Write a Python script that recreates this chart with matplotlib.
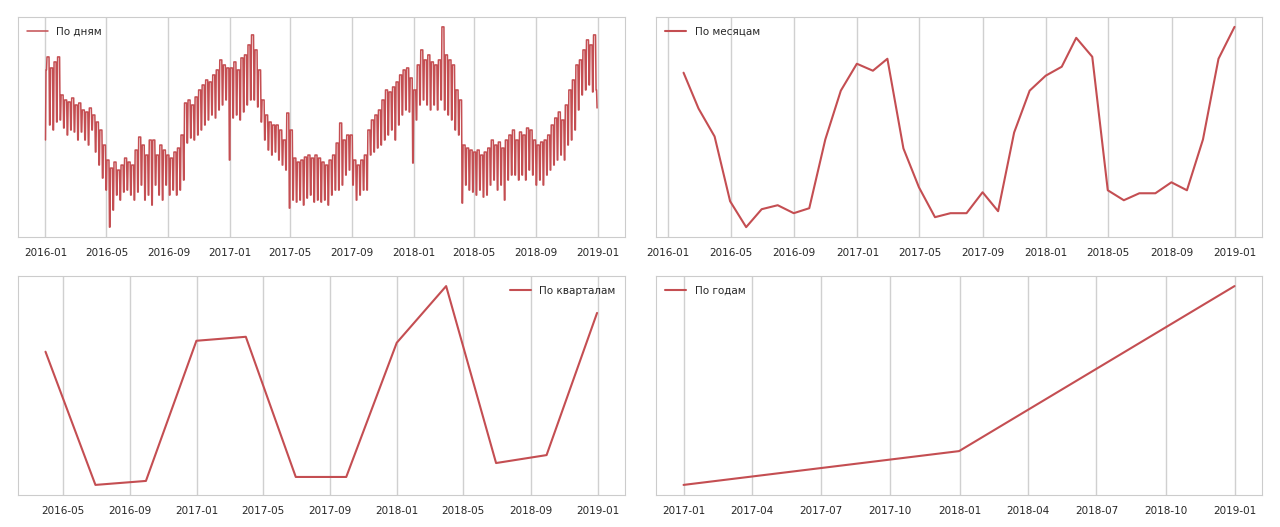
import numpy as np
import pandas as pd
import matplotlib
matplotlib.use('Agg')
import matplotlib.pyplot as plt
import matplotlib.dates as mdates
import seaborn as sns

# weekly levels of the daily series (weekdays / weekend), weeks start on Monday 2015-12-28
week_high = [100, 183, 172, 178, 183, 145, 140, 138, 142, 135, 137, 130, 128, 132, 125, 118,
             110, 95, 80, 72, 78, 70, 75, 82, 78, 75, 90, 103, 95, 85, 100, 100,
             85, 95, 90, 85, 82, 88, 92, 105, 137, 140, 135, 143, 150, 155, 160, 158,
             165, 170, 180, 175, 172,
             172, 178, 170, 182, 185, 195, 205, 190, 170, 140, 125, 118, 115, 115, 110,
             100, 127, 110, 82, 78, 80, 83, 85, 82, 85, 82, 78, 75, 80, 85, 97,
             117, 100, 105, 105, 80, 75, 80, 85, 110, 120, 125, 130, 140, 150, 148, 153,
             158, 165, 170, 172, 162,
             150, 175, 190, 180, 185, 178, 175, 180, 213, 185, 180, 175, 150, 140, 95,
             92, 90, 88, 90, 85, 88, 92, 100, 95, 98, 92, 100, 105, 110, 100, 108,
             105, 112, 110, 100, 95, 98, 100, 105, 115, 122, 128, 120, 135, 150, 160, 175,
             180, 190, 200, 195, 205, 132]
week_low = [170, 115, 110, 118, 120, 112, 105, 110, 108, 100, 108, 100, 95, 110, 88, 75,
            62, 50, 13, 30, 45, 40, 48, 50, 45, 40, 48, 55, 40, 45, 35, 55,
            45, 40, 55, 45, 50, 45, 50, 60, 97, 102, 100, 105, 110, 115, 120, 125,
            122, 130, 135, 140, 80,
            122, 125, 120, 128, 135, 140, 140, 133, 118, 100, 90, 85, 88, 80, 75,
            70, 32, 40, 38, 40, 35, 42, 45, 38, 40, 38, 40, 35, 45, 50, 50,
            55, 65, 70, 55, 40, 45, 50, 50, 85, 88, 92, 95, 100, 105, 110, 100,
            115, 125, 130, 128, 77,
            120, 135, 140, 135, 130, 135, 130, 140, 130, 125, 120, 110, 105, 37, 55,
            50, 48, 45, 50, 43, 45, 55, 60, 50, 55, 40, 60, 65, 65, 60, 65,
            60, 70, 65, 55, 60, 55, 65, 70, 75, 80, 85, 80, 95, 100, 110, 130,
            145, 150, 155, 148, 150, 132]

month_vals = [167, 131, 103, 38, 12, 30, 34, 26, 31, 100, 149, 176,
              169, 181, 91, 52, 22, 26, 26, 47, 28, 107, 149, 164,
              173, 202, 183, 49, 39, 46, 46, 57, 49, 100, 181, 213]
quarter_vals = [149, 15, 19, 160, 164, 23, 23, 158, 215, 37, 45, 188]
year_vals = [15, 49, 215]

days = pd.date_range('2016-01-01', '2018-12-31', freq='D')
week_idx = (days - pd.Timestamp('2015-12-28')).days // 7
day_vals = np.where(days.dayofweek < 5,
                    np.array(week_high)[week_idx], np.array(week_low)[week_idx])
months = pd.date_range('2016-01-31', periods=36, freq='ME')
quarters = pd.date_range('2016-03-31', periods=12, freq='QE')
years = pd.date_range('2016-12-31', periods=3, freq='YE')

sns.set_style('whitegrid')
plt.rcParams['font.family'] = ['DejaVu Sans']
color = '#c44e52'

fig = plt.figure(figsize=(12.8, 5.27), dpi=100)
boxes = [[0.014, 0.550, 0.474, 0.418], [0.5125, 0.550, 0.4735, 0.418],
         [0.014, 0.061, 0.474, 0.415], [0.5125, 0.061, 0.4735, 0.415]]
series = [(days, day_vals, 'По дням', 'upper left', [1, 5, 9], 1.1),
          (months, month_vals, 'По месяцам', 'upper left', [1, 5, 9], 1.5),
          (quarters, quarter_vals, 'По кварталам', 'upper right', [1, 5, 9], 1.5),
          (years, year_vals, 'По годам', 'upper left', [1, 4, 7, 10], 1.5)]

for box, (x, y, name, loc, bymonth, lw) in zip(boxes, series):
    ax = fig.add_axes(box)
    ax.plot(x, y, color=color, lw=lw, label=name)
    ax.set_yticks([])
    ax.xaxis.set_major_locator(mdates.MonthLocator(bymonth=bymonth))
    ax.xaxis.set_major_formatter(mdates.DateFormatter('%Y-%m'))
    ax.tick_params(axis='x', labelsize=7.5, colors='#262626', pad=8, length=0)
    ax.grid(axis='x', color='#d0d0d0', lw=1)
    for s in ax.spines.values():
        s.set_color('#cccccc')
    leg = ax.legend(loc=loc, frameon=False, fontsize=7.5)
    for t in leg.get_texts():
        t.set_color('#262626')

fig.savefig('out.png', dpi=100)
